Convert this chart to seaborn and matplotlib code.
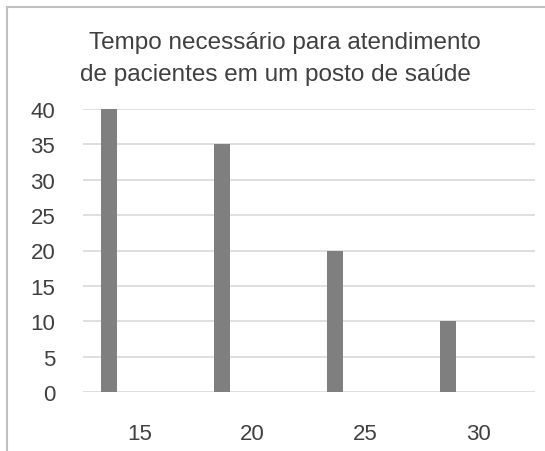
import matplotlib
matplotlib.use("Agg")
import matplotlib.pyplot as plt
from matplotlib.patches import Rectangle
import seaborn as sns
import pandas as pd

# data
categories = ["15", "20", "25", "30"]
values = [40, 35, 20, 10]
title_lines = ["Tempo necessário para atendimento", "de pacientes em um posto de saúde"]

df = pd.DataFrame({"tempo": categories, "pacientes": values})

sns.set_style("white")
plt.rcParams["font.family"] = ["Liberation Sans", "DejaVu Sans"]

fig = plt.figure(figsize=(5.45, 4.52), dpi=100)

# chart frame: only its left and top edges fall inside the picture
frame = Rectangle((7 / 545, -0.1), 1.2, 1.1 - 8 / 452, transform=fig.transFigure,
                  facecolor="none", edgecolor="#bfbfbf", linewidth=1.5)
fig.patches.append(frame)

ax = fig.add_axes([83 / 545, 1 - 393 / 452, (535 - 83) / 545, (393 - 110) / 452])
ax.patch.set_alpha(0)

sns.barplot(data=df, x="tempo", y="pacientes", color="#7f7f7f", width=0.142,
            saturation=1, ax=ax)
# bars sit to the left of each category, as in the original
for p in ax.patches:
    p.set_x(p.get_x() - 0.27)
    p.set_edgecolor("none")

ax.set_xlim(-0.5, 3.5)
ax.set_ylim(0, 40)
ax.set_yticks(range(0, 41, 5))
ax.set_axisbelow(True)
ax.yaxis.grid(True, color="#d9d9d9", linewidth=1.2)
for s in ax.spines.values():
    s.set_visible(False)
ax.set_xlabel("")
ax.set_ylabel("")
ax.tick_params(axis="y", length=0, pad=20, labelsize=16, labelcolor="#404040")
ax.tick_params(axis="x", length=0, pad=22, labelsize=16, labelcolor="#404040")

fig.text(0.523, 1 - 49 / 452, title_lines[0], ha="center", va="baseline",
         fontsize=17.5, color="#404040")
fig.text(0.505, 1 - 81 / 452, title_lines[1], ha="center", va="baseline",
         fontsize=17.5, color="#404040")

fig.savefig("out.png", dpi=100)
